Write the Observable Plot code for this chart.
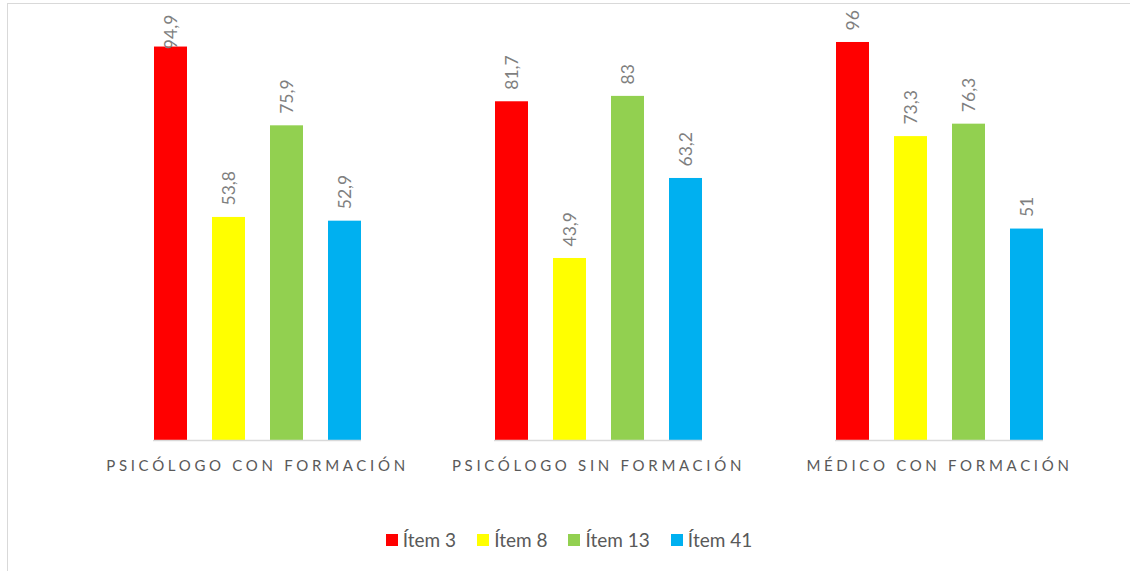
<!DOCTYPE html>
<html>
<head>
<meta charset="utf-8">
<script src="https://cdn.jsdelivr.net/npm/d3@7"></script>
<script src="https://cdn.jsdelivr.net/npm/@observablehq/plot@0.6"></script>
<style>
  html, body { margin: 0; padding: 0; background: #fff; }
  #wrap { position: relative; width: 1130px; height: 571px; overflow: hidden; font-family: Lato, "Open Sans", sans-serif; }
  #frame { position: absolute; left: 7px; top: 3px; right: -2px; bottom: -2px; border-left: 1.5px solid #d9d9d9; border-top: 1.5px solid #d9d9d9; }
  #chart { position: absolute; left: 0; top: 0; }
  #legend { position: absolute; top: 528px; left: 4px; width: 1130px; display: flex; justify-content: center; font-size: 19px; color: #595959; }
  .sw { display: inline-flex; align-items: center; margin: 0 10.5px; }
  .sq { width: 12px; height: 12px; margin-right: 5px; display: inline-block; }
  .fxaxis text { letter-spacing: 3.7px; }
</style>
</head>
<body>
<div id="wrap">
  <div id="frame"></div>
  <div id="chart"></div>
  <div id="legend"></div>
</div>
<script>
const categories = ["PSICÓLOGO CON FORMACIÓN", "PSICÓLOGO SIN FORMACIÓN", "MÉDICO CON FORMACIÓN"];
const items = ["Ítem 3", "Ítem 8", "Ítem 13", "Ítem 41"];
const item3 = [94.9, 81.7, 96];
const item8 = [53.8, 43.9, 73.3];
const item13 = [75.9, 83, 76.3];
const item41 = [52.9, 63.2, 51];
const colors = ["#FF0000", "#FFFF00", "#92D050", "#00B0F0"];

const series = [item3, item8, item13, item41];
const data = [];
categories.forEach((c, i) => {
  items.forEach((it, j) => data.push({category: c, item: it, value: series[j][i]}));
});
const fmt = v => String(v).replace(".", ",");

const chart = Plot.plot({
  width: 1130,
  height: 490,
  marginLeft: 87,
  marginRight: 20,
  marginTop: 25.4,
  marginBottom: 50,
  style: {fontFamily: "Lato, 'Open Sans', sans-serif", background: "transparent"},
  fx: {domain: categories, paddingInner: 0.389, paddingOuter: 0.1945, label: null},
  x: {domain: items, paddingInner: 0.436, paddingOuter: 0, axis: null},
  y: {domain: [0, 100], axis: null},
  color: {domain: items, range: colors},
  marks: [
    Plot.barY(data, {fx: "category", x: "item", y: "value", fill: "item"}),
    Plot.ruleY([0], {stroke: "#d9d9d9", strokeWidth: 1.5}),
    Plot.text(data, {
      fx: "category", x: "item",
      y: d => (d.value > 94 && fmt(d.value).length > 2) ? 91.5 : d.value,
      text: d => fmt(d.value),
      rotate: -90, textAnchor: "start", dy: -12,
      fill: "#7f7f7f", fontSize: 17.5
    }),
    Plot.axisFx({anchor: "bottom", tickSize: 0, tickPadding: 20, fontSize: 15, fill: "#595959", label: null, className: "fxaxis"})
  ]
});
document.getElementById("chart").appendChild(chart);

const lg = document.getElementById("legend");
items.forEach((it, j) => {
  const s = document.createElement("span");
  s.className = "sw";
  s.innerHTML = `<span class="sq" style="background:${colors[j]}"></span>${it}`;
  lg.appendChild(s);
});
</script>
</body>
</html>
